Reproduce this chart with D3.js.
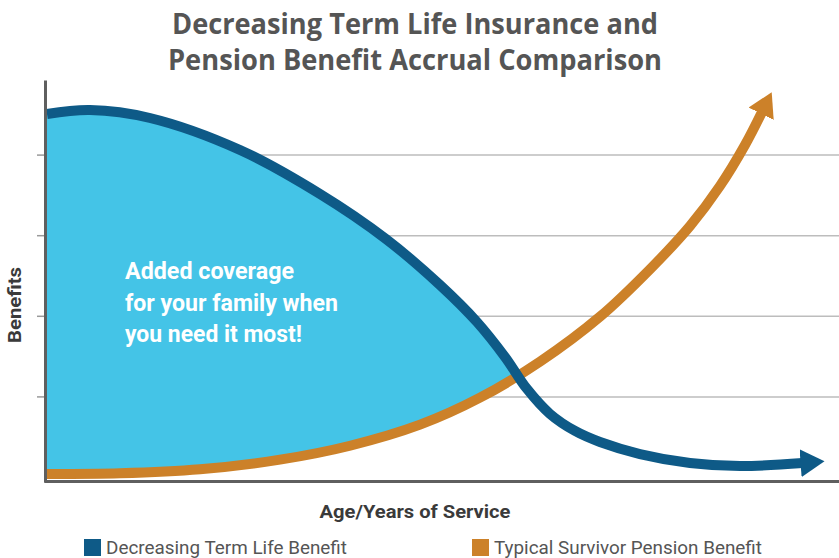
<!DOCTYPE html>
<meta charset="utf-8">
<style>
  body { margin: 0; background: #fff; }
  .title { fill: #555; font-family: "Open Sans", sans-serif; font-weight: bold; font-size: 29px; }
  .axis-label { fill: #3a3a3a; font-family: Roboto, sans-serif; font-weight: bold; font-size: 18px; }
  .note { fill: #fff; font-family: Roboto, sans-serif; font-weight: bold; font-size: 23px; }
  .legend-label { fill: #555; font-family: Roboto, sans-serif; font-size: 18px; }
  .grid line { stroke: #bdbdbd; stroke-width: 1.5; }
  .grid .domain { display: none; }
</style>
<script src="https://d3js.org/d3.v7.min.js"></script>
<div id="chart"></div>
<script>
  // curve values (x = years 0..100, y = benefit 0..5)
  const termYears    = [0, 5.43, 13.0, 24.37, 34.47, 42.8, 49.62, 54.29, 57.83, 60.61, 63.51, 66.67, 69.82, 74.87, 81.19, 87.5, 95.4];
  const termBenefit  = [4.504, 4.553, 4.454, 4.057, 3.511, 2.953, 2.382, 1.923, 1.489, 1.092, 0.782, 0.571, 0.434, 0.285, 0.174, 0.136, 0.174];
  const pensionYears   = [0, 9.22, 19.32, 29.42, 38.26, 47.1, 54.67, 62.25, 69.82, 76.14, 81.19, 84.97, 88.13, 90.28];
  const pensionBenefit = [0.037, 0.046, 0.096, 0.215, 0.388, 0.649, 0.984, 1.431, 1.989, 2.578, 3.114, 3.61, 4.119, 4.529];
  const gridValues = [1, 2, 3, 4];
  const titleLines = ["Decreasing Term Life Insurance and", "Pension Benefit Accrual Comparison"];
  const noteLines = ["Added coverage", "for your family when", "you need it most!"];
  const legendNames = ["Decreasing Term Life Benefit", "Typical Survivor Pension Benefit"];
  const legendColors = ["#0e5a87", "#cc8129"];

  const W = 839, H = 558;
  const svg = d3.select("#chart").append("svg")
    .attr("width", W).attr("height", H);

  const x = d3.scaleLinear().domain([0, 100]).range([47, 839]);
  const y = d3.scaleLinear().domain([0, 5]).range([477, 74]);

  const term = termYears.map((t, i) => ({t: t, v: termBenefit[i]}));
  const pension = pensionYears.map((t, i) => ({t: t, v: pensionBenefit[i]}));

  const curve = d3.curveCatmullRom.alpha(0.5);

  const defs = svg.append("defs");
  // arrow heads
  legendColors.forEach(function(c, i) {
    defs.append("marker")
      .attr("id", "arrow" + i)
      .attr("markerUnits", "userSpaceOnUse")
      .attr("viewBox", "0 -14 24 28")
      .attr("refX", 2).attr("refY", 0)
      .attr("markerWidth", 24).attr("markerHeight", 28)
      .attr("orient", "auto")
      .append("path")
        .attr("d", "M0,-14L24,0L0,14Z")
        .attr("fill", c);
  });

  // clip = everything above the pension curve
  defs.append("clipPath").attr("id", "abovePension")
    .append("path")
      .attr("d", d3.area().curve(curve)
        .x(d => x(d.t)).y0(0).y1(d => y(d.v))(pension));

  // gridlines
  svg.append("g")
    .attr("class", "grid")
    .attr("transform", "translate(45,0)")
    .call(d3.axisLeft(y).tickValues(gridValues).tickSize(-(W - 45)).tickFormat(""));

  // blue fill between the curves
  svg.append("path")
    .attr("clip-path", "url(#abovePension)")
    .attr("fill", "#44c4e7")
    .attr("d", d3.area().curve(curve)
      .x(d => x(d.t)).y0(y(0) + 2).y1(d => y(d.v))(term));

  const line = d3.line().curve(curve).x(d => x(d.t)).y(d => y(d.v));

  svg.append("path")
    .attr("d", line(pension))
    .attr("fill", "none")
    .attr("stroke", legendColors[1])
    .attr("stroke-width", 10)
    .attr("marker-end", "url(#arrow1)");

  svg.append("path")
    .attr("d", line(term))
    .attr("fill", "none")
    .attr("stroke", legendColors[0])
    .attr("stroke-width", 10)
    .attr("marker-end", "url(#arrow0)");

  // y axis with small outside ticks
  const yAxis = svg.append("g")
    .attr("transform", "translate(45,0)")
    .call(d3.axisLeft(y.copy().range([482, 80])).tickValues([]).tickSizeOuter(0));
  yAxis.select(".domain").attr("stroke", "#5f5f5f").attr("stroke-width", 3);
  svg.append("g")
    .attr("transform", "translate(44,0)")
    .call(d3.axisLeft(y).tickValues(gridValues).tickSize(7).tickFormat(""))
    .call(g => g.select(".domain").remove())
    .selectAll("line").attr("stroke", "#9a9a9a").attr("stroke-width", 1.5);

  // x axis
  const xAxis = svg.append("g")
    .attr("transform", "translate(0,481)")
    .call(d3.axisBottom(x.copy().range([44, 839])).tickValues([]).tickSizeOuter(0));
  xAxis.select(".domain").attr("stroke", "#5f5f5f").attr("stroke-width", 3);

  // title
  svg.selectAll(".title")
    .data(titleLines)
    .join("text")
      .attr("class", "title")
      .attr("x", 415)
      .attr("y", (d, i) => 34 + i * 36)
      .attr("text-anchor", "middle")
      .attr("textLength", (d, i) => i == 0 ? 486 : 494)
      .attr("lengthAdjust", "spacingAndGlyphs")
      .text(d => d);

  // note inside the fill
  svg.selectAll(".note")
    .data(noteLines)
    .join("text")
      .attr("class", "note")
      .attr("x", 125)
      .attr("y", (d, i) => 279 + i * 31.5)
      .attr("textLength", (d, i) => [169, 213, 177][i])
      .attr("lengthAdjust", "spacingAndGlyphs")
      .text(d => d);

  // axis labels
  svg.append("text")
    .attr("class", "axis-label")
    .attr("transform", "translate(21,305) rotate(-90)")
    .attr("text-anchor", "middle")
    .attr("textLength", 76)
    .attr("lengthAdjust", "spacingAndGlyphs")
    .text("Benefits");

  svg.append("text")
    .attr("class", "axis-label")
    .attr("x", 415)
    .attr("y", 518)
    .attr("text-anchor", "middle")
    .attr("textLength", 191)
    .attr("lengthAdjust", "spacingAndGlyphs")
    .text("Age/Years of Service");

  // legend
  const legendX = [84, 472];
  const legendW = [241, 268];
  const lg = svg.selectAll(".legend")
    .data(legendNames)
    .join("g")
      .attr("class", "legend")
      .attr("transform", (d, i) => `translate(${legendX[i]},539)`);
  lg.append("rect")
    .attr("width", 17).attr("height", 17)
    .attr("fill", (d, i) => legendColors[i]);
  lg.append("text")
    .attr("class", "legend-label")
    .attr("x", 22)
    .attr("y", 15)
    .attr("textLength", (d, i) => legendW[i])
    .attr("lengthAdjust", "spacingAndGlyphs")
    .text(d => d);
</script>
